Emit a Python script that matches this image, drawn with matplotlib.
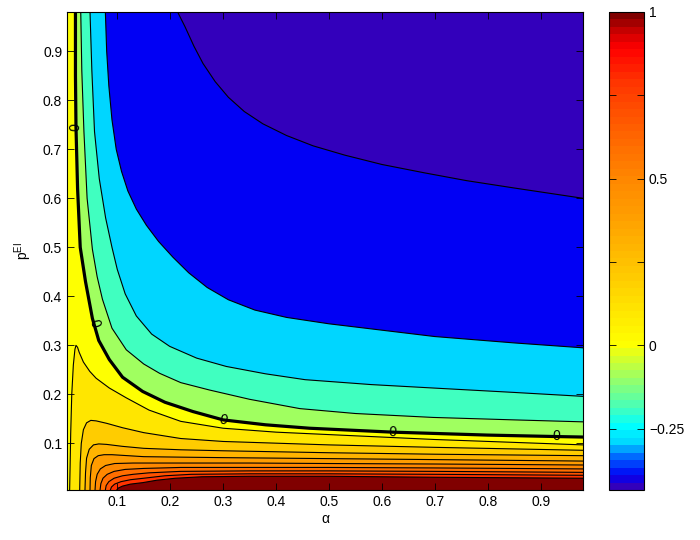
import numpy as np
import matplotlib
matplotlib.use("Agg")
import matplotlib.pyplot as plt
from matplotlib.colors import LinearSegmentedColormap, Normalize
from matplotlib.cm import ScalarMappable

plt.rcParams['font.family'] = ['Liberation Sans', 'DejaVu Sans']
plt.rcParams['font.size'] = 10
plt.rcParams['mathtext.fontset'] = 'custom'
plt.rcParams['mathtext.rm'] = 'Liberation Sans'

# axis ranges and colour range
alpha_lim = (0.005, 0.98)
p_lim = (0.005, 0.98)
z_min, z_max = -0.434, 1.0

# contour lines: (alpha, p) points per level
# negative levels run from the top edge to the right edge
c0_a = [0.021, 0.021, 0.022, 0.025, 0.030, 0.040, 0.053, 0.065, 0.085, 0.110,
        0.148, 0.190, 0.243, 0.300, 0.380, 0.463, 0.620, 0.800, 0.930, 0.980]
c0_p = [0.980, 0.850, 0.745, 0.620, 0.500, 0.430, 0.355, 0.310, 0.271, 0.235,
        0.206, 0.184, 0.165, 0.148, 0.138, 0.131, 0.123, 0.117, 0.114, 0.113]

cm1_a = [0.031, 0.033, 0.037, 0.043, 0.053, 0.062, 0.072, 0.090, 0.117, 0.150,
         0.180, 0.220, 0.274, 0.350, 0.445, 0.550, 0.697, 0.850, 0.980]
cm1_p = [0.980, 0.860, 0.736, 0.600, 0.496, 0.440, 0.394, 0.335, 0.291, 0.262,
         0.243, 0.224, 0.209, 0.190, 0.171, 0.161, 0.153, 0.148, 0.144]

cm2_a = [0.0485, 0.052, 0.057, 0.066, 0.078, 0.090, 0.100, 0.115, 0.136, 0.165,
         0.199, 0.250, 0.306, 0.380, 0.455, 0.580, 0.697, 0.850, 0.980]
cm2_p = [0.980, 0.860, 0.736, 0.640, 0.560, 0.500, 0.455, 0.405, 0.360, 0.323,
         0.298, 0.274, 0.257, 0.242, 0.230, 0.220, 0.213, 0.204, 0.196]

cm3_a = [0.0775, 0.080, 0.084, 0.090, 0.098, 0.108, 0.120, 0.136, 0.155, 0.178,
         0.205, 0.235, 0.270, 0.310, 0.360, 0.420, 0.500, 0.600, 0.700, 0.850, 0.980]
cm3_p = [0.980, 0.900, 0.830, 0.760, 0.700, 0.655, 0.615, 0.578, 0.545, 0.512,
         0.480, 0.448, 0.418, 0.393, 0.372, 0.357, 0.344, 0.331, 0.318, 0.305, 0.295]

cm4_a = [0.214, 0.228, 0.245, 0.262, 0.285, 0.310, 0.340, 0.375, 0.420, 0.470,
         0.530, 0.600, 0.680, 0.760, 0.850, 0.980]
cm4_p = [0.980, 0.950, 0.910, 0.875, 0.838, 0.806, 0.777, 0.752, 0.728, 0.707,
         0.688, 0.669, 0.652, 0.636, 0.621, 0.600]

# positive levels run from the bottom edge to the right edge
cp1_a = [0.010, 0.011, 0.012, 0.014, 0.017, 0.020, 0.022, 0.025, 0.028, 0.036, 0.048,
         0.060, 0.085, 0.117, 0.160, 0.220, 0.300, 0.400, 0.500, 0.700, 0.980]
cp1_p = [0.005, 0.060, 0.120, 0.200, 0.260, 0.292, 0.300, 0.296, 0.286, 0.266, 0.247,
         0.233, 0.213, 0.193, 0.168, 0.145, 0.131, 0.123, 0.118, 0.108, 0.097]

cp2_a = [0.029, 0.030, 0.032, 0.036, 0.042, 0.050, 0.060, 0.080, 0.110, 0.150,
         0.220, 0.300, 0.500, 0.700, 0.980]
cp2_p = [0.005, 0.060, 0.100, 0.128, 0.142, 0.147, 0.146, 0.141, 0.132, 0.122,
         0.110, 0.104, 0.097, 0.092, 0.086]

cp3_a = [0.039, 0.040, 0.042, 0.047, 0.055, 0.065, 0.080, 0.110, 0.150, 0.220,
         0.300, 0.500, 0.700, 0.980]
cp3_p = [0.005, 0.040, 0.070, 0.088, 0.097, 0.099, 0.098, 0.094, 0.090, 0.087,
         0.085, 0.081, 0.078, 0.075]

cp4_a = [0.0485, 0.049, 0.051, 0.056, 0.064, 0.075, 0.090, 0.120, 0.150, 0.220,
         0.300, 0.500, 0.700, 0.980]
cp4_p = [0.005, 0.030, 0.055, 0.069, 0.075, 0.077, 0.077, 0.075, 0.073, 0.072,
         0.071, 0.069, 0.067, 0.064]

cp5_a = [0.058, 0.059, 0.062, 0.068, 0.078, 0.095, 0.130, 0.220, 0.350, 0.500, 0.700, 0.980]
cp5_p = [0.005, 0.022, 0.037, 0.048, 0.055, 0.059, 0.060, 0.060, 0.060, 0.059, 0.058, 0.056]

cp6_a = [0.0675, 0.069, 0.073, 0.081, 0.094, 0.115, 0.150, 0.220, 0.350, 0.500, 0.700, 0.980]
cp6_p = [0.005, 0.018, 0.029, 0.037, 0.043, 0.047, 0.049, 0.051, 0.051, 0.051, 0.050, 0.048]

cp7_a = [0.0775, 0.079, 0.084, 0.094, 0.110, 0.130, 0.160, 0.220, 0.350, 0.500, 0.700, 0.980]
cp7_p = [0.005, 0.014, 0.022, 0.029, 0.034, 0.037, 0.040, 0.043, 0.044, 0.044, 0.043, 0.041]

cp8_a = [0.087, 0.089, 0.095, 0.107, 0.125, 0.150, 0.190, 0.240, 0.350, 0.500, 0.700, 0.980]
cp8_p = [0.005, 0.011, 0.017, 0.022, 0.026, 0.029, 0.034, 0.037, 0.038, 0.038, 0.037, 0.035]

cp9_a = [0.099, 0.102, 0.110, 0.125, 0.148, 0.175, 0.210, 0.260, 0.350, 0.500, 0.700, 0.980]
cp9_p = [0.005, 0.009, 0.013, 0.017, 0.020, 0.025, 0.029, 0.032, 0.033, 0.033, 0.031, 0.029]

neg_levels = [0.0, -0.1, -0.2, -0.3, -0.4]
pos_levels = [0.1, 0.2, 0.3, 0.4, 0.5, 0.6, 0.7, 0.8, 0.9]

# inline "0" labels on the thick zero contour
label_a = [0.021, 0.057, 0.300, 0.620, 0.930]
label_p = [0.745, 0.345, 0.148, 0.123, 0.114]
label_rot = [88, -72, -14, -3, -1]

# colour map anchors (value -> colour)
cmap_vals = [-0.434, -0.40, -0.34, -0.30, -0.25, -0.20, -0.10, 0.0, 0.10, 0.20,
             0.30, 0.40, 0.50, 0.60, 0.70, 0.80, 0.90, 0.95, 1.0]
cmap_cols = ['#3300bb', '#0000f5', '#0070ff', '#00d8ff', '#00ffff', '#40ffc0',
             '#a0ff60', '#ffff00', '#ffe600', '#ffcc00', '#ffb400', '#ff9c00',
             '#ff8800', '#ff6e00', '#ff5200', '#ff3300', '#ff0000', '#cc0000', '#800000']

norm = Normalize(z_min, z_max)
anchors = [min(max(float((v - z_min) / (z_max - z_min)), 0.0), 1.0) for v in cmap_vals]
# stepped map for the colour bar, smooth one for the filled bands
cmap = LinearSegmentedColormap.from_list('custom', list(zip(anchors, cmap_cols)), N=64)
fill_cmap = LinearSegmentedColormap.from_list('custom_fine', list(zip(anchors, cmap_cols)), N=1024)

neg_lines = [(c0_a, c0_p), (cm1_a, cm1_p), (cm2_a, cm2_p), (cm3_a, cm3_p), (cm4_a, cm4_p)]
pos_lines = [(cp1_a, cp1_p), (cp2_a, cp2_p), (cp3_a, cp3_p), (cp4_a, cp4_p), (cp5_a, cp5_p),
             (cp6_a, cp6_p), (cp7_a, cp7_p), (cp8_a, cp8_p), (cp9_a, cp9_p)]

fig = plt.figure(figsize=(7, 5.4), dpi=100)
ax = fig.add_axes([0.0957, 0.0926, 0.7371, 0.8852])

# band between 0 and 0.1 is the background
ax.set_facecolor(fill_cmap(norm(0.0)))

# regions below each negative level (upper right), colour of the band below it
for i, (lev, (a, p)) in enumerate(zip(neg_levels, neg_lines)):
    band = lev - 0.1 if i < len(neg_levels) - 1 else z_min
    ax.fill(a + [alpha_lim[1]], p + [p_lim[1]], color=fill_cmap(norm(band)), lw=0, zorder=1)

# regions above each positive level (lower right)
for i, (lev, (a, p)) in enumerate(zip(pos_levels, pos_lines)):
    band = lev if i < len(pos_levels) - 1 else z_max
    ax.fill(a + [alpha_lim[1]], p + [p_lim[0]], color=fill_cmap(norm(band)), lw=0, zorder=1)

for i, (a, p) in enumerate(neg_lines + pos_lines):
    ax.plot(a, p, color='k', lw=2.3 if i == 0 else 0.8, zorder=3,
            solid_joinstyle='round')

for a, p, r in zip(label_a, label_p, label_rot):
    ax.text(a, p, '0', rotation=r, ha='center', va='center', fontsize=10, zorder=4)

ticks = np.arange(1, 10) / 10
ax.set_xlim(*alpha_lim)
ax.set_ylim(*p_lim)
ax.set_xticks(ticks)
ax.set_xticklabels(['%.1f' % t for t in ticks])
ax.set_yticks(ticks)
ax.set_yticklabels(['%.1f' % t for t in ticks])
ax.tick_params(direction='in', top=True, right=True, length=5, width=0.6)
ax.set_axisbelow(False)
for s in ax.spines.values():
    s.set_linewidth(0.8)
    s.set_zorder(5)
ax.set_xlabel('α', labelpad=2)
ax.set_ylabel(r'$\mathregular{p^{EI}}$', labelpad=6)

cax = fig.add_axes([0.870, 0.0926, 0.05, 0.8852])
cb = fig.colorbar(ScalarMappable(norm=norm, cmap=cmap), cax=cax)
cb.set_ticks([-0.25, 0, 0.25, 0.5, 0.75, 1])
cb.set_ticklabels(['\u22120.25', '0', '', '0.5', '', '1'])
cax.tick_params(direction='in', left=True, right=True, length=5, width=0.6)
cb.outline.set_linewidth(0.8)

fig.savefig('out.png', dpi=100)
